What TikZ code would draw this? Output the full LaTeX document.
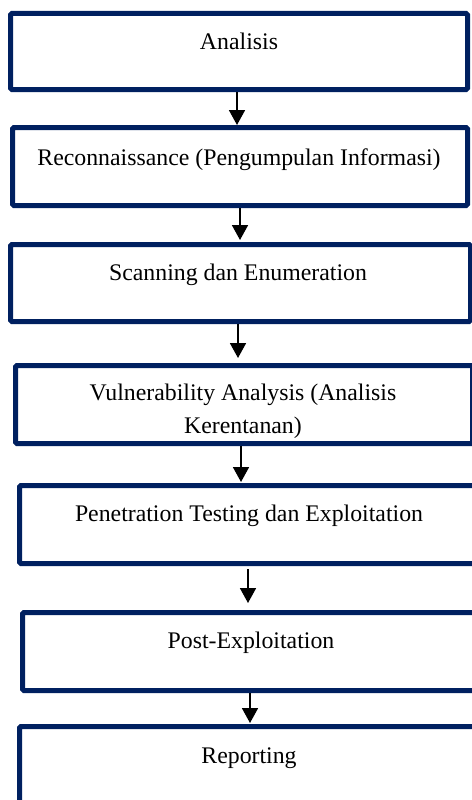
\documentclass[tikz,border=0pt]{standalone}
\usepackage{fontspec}
\setmainfont{Liberation Serif}
\usetikzlibrary{arrows.meta}
\definecolor{navy}{RGB}{0,32,96}
\begin{document}
\begin{tikzpicture}[x=1pt,y=-1pt,
  box/.style={draw=navy,line width=5pt,rounded corners=1.5pt,inner sep=0pt},
  lbl/.style={font=\fontsize{23.8}{28}\selectfont,anchor=base,inner sep=0pt},
  arr/.style={draw=black,line width=1.8pt,-{Triangle[width=16pt,length=15pt]}}]
\useasboundingbox (0,0) rectangle (471,800);
\fill[white] (0,0) rectangle (471,800);
% boxes
\node[box,minimum width=457pt,minimum height=76pt] (b1) at (239,51.5) {};
\node[box,minimum width=455pt,minimum height=78pt] (b2) at (240,166.5) {};
\node[box,minimum width=460pt,minimum height=77pt] (b3) at (240.5,283) {};
\node[box,minimum width=457pt,minimum height=78pt] (b4) at (244,404.5) {};
\node[box,minimum width=462.5pt,minimum height=78pt] (b5) at (250.75,524.5) {};
\node[box,minimum width=459.5pt,minimum height=78pt] (b6) at (252.25,651.5) {};
\node[box,minimum width=462.5pt,minimum height=93.5pt] (b7) at (250.75,773.25) {};
% labels
\node[lbl] (t1) at (239,49) {Analisis};
\node[lbl] (t2) at (239,165) {Reconnaissance (Pengumpulan Informasi)};
\node[lbl] (t3) at (238,280) {Scanning dan Enumeration};
\node[lbl] (t4a) at (243,400) {Vulnerability Analysis (Analisis};
\node[lbl] (t4b) at (243,433) {Kerentanan)};
\node[lbl] (t5) at (249,521) {Penetration Testing dan Exploitation};
\node[lbl] (t6) at (251,648) {Post-Exploitation};
\node[lbl] (t7) at (249,763) {Reporting};
% arrows
\draw[arr] ([xshift=-2pt]b1.south) -- ([xshift=-3pt]b2.north);
\draw[arr,shorten >=2pt] (b2.south) -- ([xshift=-0.5pt]b3.north);
\draw[arr,shorten >=5pt] ([xshift=-2.5pt]b3.south) -- ([xshift=-6pt]b4.north);
\draw[arr,shorten >=1pt] ([xshift=-3pt]b4.south) -- ([xshift=-9.75pt]b5.north);
\draw[arr,shorten <=3pt,shorten >=7pt] ([xshift=-2.75pt]b5.south) -- ([xshift=-4.25pt]b6.north);
\draw[arr,shorten >=1pt] ([xshift=-2.25pt]b6.south) -- ([xshift=-0.75pt]b7.north);
\end{tikzpicture}
\end{document}
